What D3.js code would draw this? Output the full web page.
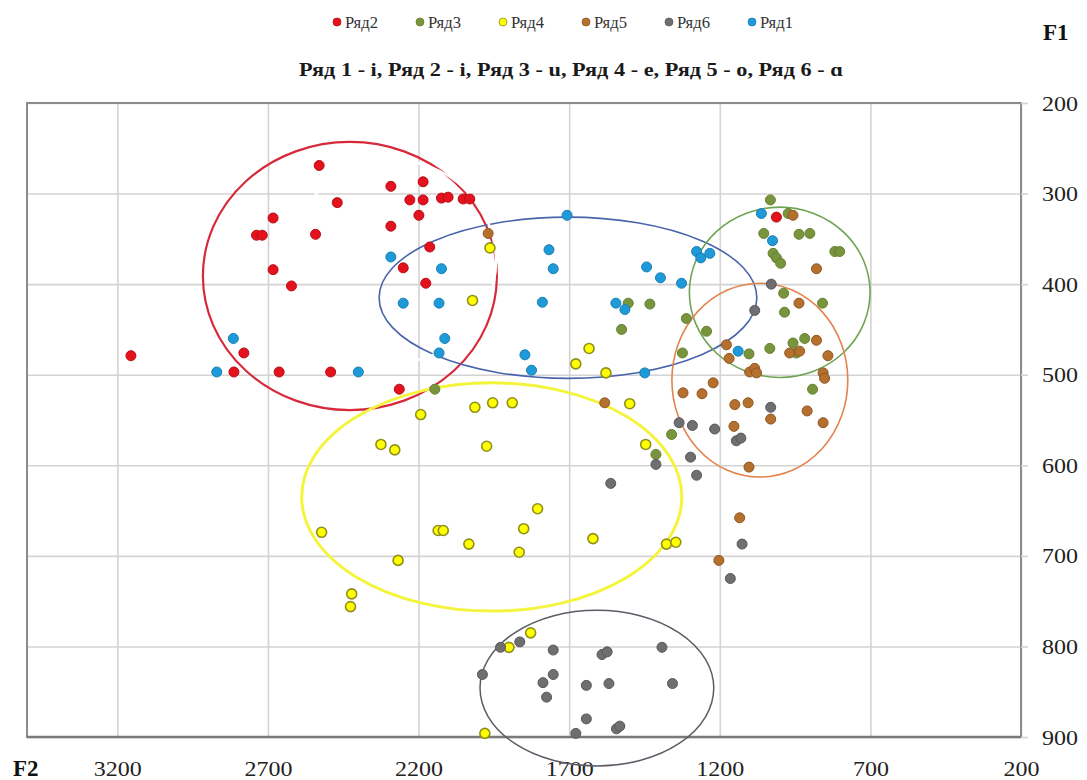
<!DOCTYPE html>
<html>
<head>
<meta charset="utf-8">
<script src="https://cdn.jsdelivr.net/npm/d3@7"></script>
<style>
  html, body { margin: 0; padding: 0; background: #fff; }
  svg { display: block; }
</style>
</head>
<body>
<svg id="chart" width="1087" height="780"></svg>
<script>
// Formant plot: F2 (Hz, reversed, bottom) against F1 (Hz, reversed, right)
const seriesNames = ["Ряд2", "Ряд3", "Ряд4", "Ряд5", "Ряд6", "Ряд1"];
const titleText = "Ряд 1 - i, Ряд 2 - i, Ряд 3 - u, Ряд 4 - e, Ряд 5 - o, Ряд 6 - ɑ";
const xTicks = [3200, 2700, 2200, 1700, 1200, 700, 200];
const yTicks = [200, 300, 400, 500, 600, 700, 800, 900];

// [F2, F1] pairs per series
const ryad2 = [
  [3155, 479], [2813, 497], [2780, 476], [2663, 497], [2492, 497], [2530, 269],
  [2470, 310], [2683, 327], [2738, 346], [2719, 346], [2542, 345], [2683, 384],
  [2622, 402], [2292, 292], [2185, 287], [2229, 307], [2185, 307], [2124, 305],
  [2102, 304], [2052, 306], [2030, 306], [2199, 324], [2292, 336], [2163, 359],
  [2251, 382], [2176, 399], [2264, 516], [1012, 326]
];
const ryad3 = [
  [2146, 516], [1504, 421], [1432, 422], [1526, 450], [1311, 438], [1244, 452],
  [1324, 476], [1360, 566], [1412, 588], [1032, 307], [973, 322], [1054, 344],
  [937, 345], [901, 344], [1023, 366], [1012, 371], [998, 377], [818, 364],
  [802, 364], [988, 410], [859, 421], [985, 431], [1103, 477], [1034, 471],
  [957, 465], [918, 460], [946, 476], [892, 516]
];
const ryad4 = [
  [2325, 577], [2279, 583], [2522, 674], [2268, 705], [2422, 742], [2426, 756],
  [2013, 536], [1954, 531], [1889, 531], [2193, 544], [1974, 579], [1805, 648],
  [2135, 672], [2118, 672], [1851, 670], [2033, 687], [1866, 696], [1621, 681],
  [1377, 687], [1346, 685], [1900, 801], [1828, 785], [1980, 896], [2021, 418],
  [1963, 360], [1634, 471], [1678, 488], [1578, 498], [1499, 532], [1446, 577]
];
const ryad5 = [
  [1969, 344], [1582, 531], [1322, 520], [1259, 521], [1222, 509], [957, 324],
  [879, 383], [937, 421], [1178, 467], [1169, 482], [879, 462], [968, 476],
  [935, 474], [841, 479], [1101, 497], [1084, 493], [1078, 498], [857, 498],
  [852, 504], [1150, 533], [1106, 531], [1031, 549], [910, 540], [857, 553],
  [1153, 557], [1103, 602], [1134, 658], [1203, 705]
];
const ryad6 = [
  [1029, 400], [1084, 429], [1031, 536], [1217, 560], [1145, 573], [1130, 570],
  [1126, 687], [1165, 725], [1335, 553], [1291, 556], [1297, 591], [1277, 611],
  [1412, 599], [1562, 620], [1864, 795], [1928, 801], [1988, 831], [1753, 804],
  [1753, 831], [1787, 840], [1775, 856], [1591, 809], [1574, 806], [1643, 843],
  [1568, 841], [1392, 801], [1357, 841], [1643, 880], [1678, 896], [1543, 891],
  [1532, 888]
];
const ryad1 = [
  [2815, 460], [2870, 497], [2400, 497], [2292, 370], [2124, 383], [2251, 421],
  [2132, 421], [2113, 460], [2132, 476], [1767, 362], [1753, 383], [1789, 420],
  [1847, 478], [1825, 495], [1707, 324], [1443, 381], [1397, 393], [1327, 399],
  [1277, 364], [1263, 371], [1233, 366], [1545, 421], [1515, 428], [1449, 498],
  [1062, 322], [1025, 352], [1139, 474]
];
const seriesData = [ryad2, ryad3, ryad4, ryad5, ryad6, ryad1];

// Group ellipses: centre F2, centre F1, half-width (Hz of F2), half-height (Hz of F1)
const ellipseCx = [2428, 1704, 1001, 1067, 1957, 1608, 2285];
const ellipseCy = [391, 415, 409, 506, 635, 846, 375];
const ellipseRx = [488, 627, 300, 292, 631, 388, 342];
const ellipseRy = [148, 89, 94, 107, 126, 86, 112];

const pointFill = ["#e3121c", "#78953d", "#ffff00", "#b5702d", "#6f6f72", "#1e9ad8"];
const pointStroke = ["#b50f18", "#66812f", "#8f8f1c", "#8e5622", "#58585c", "#1a7fb5"];
const ellipseColor = ["#d62a3b", "#4a64ab", "#6fa453", "#e2844d", "#f4f43c", "#5c5c66", "#ffffff"];
const ellipseWidth = [2.2, 1.6, 1.6, 1.6, 3, 1.5, 2.5];

const serif = "'Liberation Serif', 'Times New Roman', serif";
const svg = d3.select("#chart");
const plotLeft = 27, plotRight = 1021, plotTop = 103, plotBottom = 737;

const x = d3.scaleLinear().domain([3500, 200]).range([plotLeft, plotRight]);
const y = d3.scaleLinear().domain([200, 900]).range([plotTop, plotBottom]);

// vertical gridlines
svg.append("g")
  .attr("transform", `translate(0,${plotBottom})`)
  .call(d3.axisBottom(x).tickValues(xTicks).tickSize(-(plotBottom - plotTop)).tickFormat(""))
  .call(g => g.select(".domain").remove())
  .call(g => g.selectAll("line").attr("stroke", "#d3d3d3").attr("stroke-width", 1.6));

// horizontal gridlines
svg.append("g")
  .attr("transform", `translate(${plotRight},0)`)
  .call(d3.axisLeft(y).tickValues(yTicks).tickSize(plotRight - plotLeft).tickFormat(""))
  .call(g => g.select(".domain").remove())
  .call(g => g.selectAll("line").attr("stroke", "#d3d3d3").attr("stroke-width", 1.6));

// plot frame
svg.append("rect")
  .attr("x", plotLeft).attr("y", plotTop)
  .attr("width", plotRight - plotLeft).attr("height", plotBottom - plotTop)
  .attr("fill", "none").attr("stroke", "#8c8c8c").attr("stroke-width", 2);
svg.append("line")
  .attr("x1", plotLeft).attr("x2", plotRight).attr("y1", plotBottom).attr("y2", plotBottom)
  .attr("stroke", "#7a7a7a").attr("stroke-width", 2.5);

// bottom axis labels (F2)
svg.append("g")
  .attr("transform", `translate(0,${plotBottom})`)
  .call(d3.axisBottom(x).tickValues(xTicks).tickSize(0).tickPadding(23).tickFormat(d3.format("d")))
  .call(g => g.select(".domain").remove())
  .call(g => g.selectAll("text")
    .style("font-family", serif)
    .style("font-size", "22px")
    .attr("fill", "#222")
    .attr("textLength", d => String(d).length * 12)
    .attr("lengthAdjust", "spacingAndGlyphs"));

// right axis labels (F1)
svg.append("g")
  .attr("transform", `translate(${plotRight},0)`)
  .call(d3.axisRight(y).tickValues(yTicks).tickSize(7).tickPadding(14).tickFormat(d3.format("d")))
  .call(g => g.select(".domain").remove())
  .call(g => g.selectAll("line").attr("stroke", "#d3d3d3").attr("stroke-width", 1.6))
  .call(g => g.selectAll("text")
    .style("font-family", serif)
    .style("font-size", "22px")
    .attr("fill", "#222")
    .attr("textLength", d => String(d).length * 12)
    .attr("lengthAdjust", "spacingAndGlyphs"));

// axis names
svg.append("text").attr("x", 13).attr("y", 776)
  .style("font-family", serif).style("font-size", "23px").style("font-weight", "bold")
  .attr("fill", "#111").text("F2");
svg.append("text").attr("x", 1043).attr("y", 40)
  .style("font-family", serif).style("font-size", "23px").style("font-weight", "bold")
  .attr("fill", "#111").text("F1");

// title
svg.append("text")
  .attr("x", 299).attr("y", 76)
  .style("font-family", serif).style("font-size", "18px").style("font-weight", "bold")
  .attr("fill", "#1a1a1a")
  .attr("textLength", 544).attr("lengthAdjust", "spacingAndGlyphs")
  .text(titleText);

// legend
const legend = svg.append("g");
seriesNames.forEach((name, i) => {
  const lx = 337 + i * 83;
  legend.append("circle").attr("cx", lx).attr("cy", 22).attr("r", 4)
    .attr("fill", pointFill[i]).attr("stroke", pointStroke[i]).attr("stroke-width", 0.8);
  legend.append("text").attr("x", lx + 8).attr("y", 28)
    .style("font-family", serif).style("font-size", "17px")
    .attr("fill", "#333")
    .attr("textLength", 33).attr("lengthAdjust", "spacingAndGlyphs")
    .text(name);
});

// group ellipses
const ell = svg.append("g");
ellipseCx.forEach((cx, i) => {
  ell.append("ellipse")
    .attr("cx", x(cx)).attr("cy", y(ellipseCy[i]))
    .attr("rx", Math.abs(x(cx + ellipseRx[i]) - x(cx)))
    .attr("ry", Math.abs(y(ellipseCy[i] + ellipseRy[i]) - y(ellipseCy[i])))
    .attr("fill", "none")
    .attr("stroke", ellipseColor[i])
    .attr("stroke-width", ellipseWidth[i]);
});

// points
const pts = svg.append("g");
seriesData.forEach((data, i) => {
  pts.append("g").selectAll("circle")
    .data(data)
    .join("circle")
    .attr("cx", d => x(d[0]))
    .attr("cy", d => y(d[1]))
    .attr("r", 5)
    .attr("fill", pointFill[i])
    .attr("stroke", pointStroke[i])
    .attr("stroke-width", i === 2 ? 1.6 : 1);
});
</script>
</body>
</html>
